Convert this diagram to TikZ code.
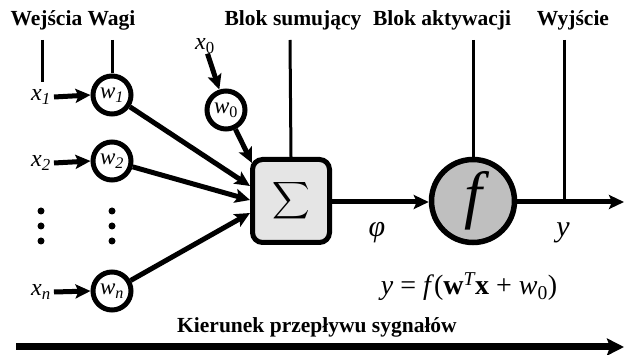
\documentclass[tikz,border=0pt]{standalone}
\usepackage{graphicx}
\usepackage{fontspec}
\setmainfont{Liberation Serif}
\usetikzlibrary{arrows.meta}
\begin{document}
\begin{tikzpicture}[x=1pt,y=-1pt,
 title/.style={font=\fontsize{21.5}{24}\selectfont\bfseries, inner sep=0, anchor=base},
 wnode/.style={circle, draw, line width=5pt, minimum size=38pt, inner sep=0, fill=white, font=\fontsize{23}{24}\selectfont\itshape},
 lbl/.style={inner sep=0, font=\fontsize{24}{24}\selectfont\itshape},
 arr/.style={line width=5pt, -{Stealth[length=15pt,width=14pt,inset=3pt]}},
 vline/.style={line width=3pt},
 dot/.style={circle, fill, inner sep=0, minimum size=7pt}
]
\useasboundingbox (0,0) rectangle (624,355);

% titles
\node[title] (tin) at (73,26) {Wejścia Wagi};
\node[title] (tsum) at (293,26) {Blok sumujący};
\node[title] (tact) at (442,26) {Blok aktywacji};
\node[title] (tout) at (573,26) {Wyjście};

% weight nodes
\node[wnode] (w1) at (112,95) {w\textsubscript{1}};
\node[wnode] (w2) at (112,161) {w\textsubscript{2}};
\node[wnode] (wn) at (112,291) {w\textsubscript{\itshape n}};
\node[wnode] (w0) at (226,110) {w\textsubscript{\upshape 0}};

% input labels
\node[lbl] (x1) at (41,97) {x\textsubscript{1}};
\node[lbl] (x2) at (41,163) {x\textsubscript{2}};
\node[lbl] (xn) at (41,292) {x\textsubscript{n}};
\node[lbl] (x0) at (205,46) {x\textsubscript{\upshape 0}};

% dots
\node[dot] (d1) at (41,211) {};
\node[dot] (d2) at (41,226) {};
\node[dot] (d3) at (41,241) {};
\node[dot] (e1) at (112,211) {};
\node[dot] (e2) at (112,226) {};
\node[dot] (e3) at (112,241) {};

% summing block
\node[draw, line width=5pt, rounded corners=10pt, fill=gray!20, minimum width=77pt, minimum height=83pt, inner sep=0] (sum) at (291,201)
  {\scalebox{2.6}{$\displaystyle\sum$}};

% activation
\node[circle, draw, line width=5.5pt, fill=gray!50, minimum size=83pt, inner sep=0,
      font=\fontsize{64}{64}\selectfont\itshape] (f) at (473,201) {f};

% labels
\node[inner sep=0, font=\fontsize{30}{30}\selectfont\itshape] (phi) at (377,233) {φ};
\node[inner sep=0, font=\fontsize{30}{30}\selectfont\itshape] (ylbl) at (563,233) {y};
\node[inner sep=0, font=\fontsize{28}{28}\selectfont] (eq) at (469,287)
  {\textit{y} = \textit{f}(\textbf{w}\textsuperscript{\itshape T}\textbf{x} + \textit{w}\textsubscript{0})};
\node[title] (tflow) at (317,333) {Kierunek przepływu sygnałów};

% coordinates
\coordinate (l1top) at (42,40);
\coordinate (l1bot) at (42,82);
\coordinate (l2top) at (112,40);
\coordinate (lstop) at (290,40);
\coordinate (latop) at (473,40);
\coordinate (lotop) at (564,40);
\coordinate (lobot) at (564,202);
\coordinate (s0) at (252,163);
\coordinate (s1) at (250,186);
\coordinate (s2) at (250,200);
\coordinate (sn) at (250,213);
\coordinate (outend) at (624,202);
\coordinate (fl1) at (16,347);
\coordinate (fl2) at (624,347);

% vertical lines
\draw[vline] (l1top) -- (l1bot);
\draw[vline] (l2top) -- (w1.north);
\draw[vline] (lstop) -- (sum.north);
\draw[vline] (latop) -- (f.north);
\draw[vline] (lotop) -- (lobot);

% arrows
\draw[arr] (x1.east) ++(3,0) -- (w1.west);
\draw[arr] (x2.east) ++(3,0) -- (w2.west);
\draw[arr] (xn.east) ++(3,0) -- (wn.west);
\draw[arr] (x0) -- (w0);
\draw[arr] (w0) -- (s0);
\draw[arr] (w1) -- (s1);
\draw[arr] (w2) -- (s2);
\draw[arr] (wn) -- (sn);
\draw[arr] (sum.east |- 0,202) -- (f.west |- 0,202);
\draw[arr] (f.east |- 0,202) -- (outend);
\draw[line width=7pt, -{Stealth[length=17pt,width=17pt,inset=3pt]}] (fl1) -- (fl2);
\end{tikzpicture}
\end{document}
